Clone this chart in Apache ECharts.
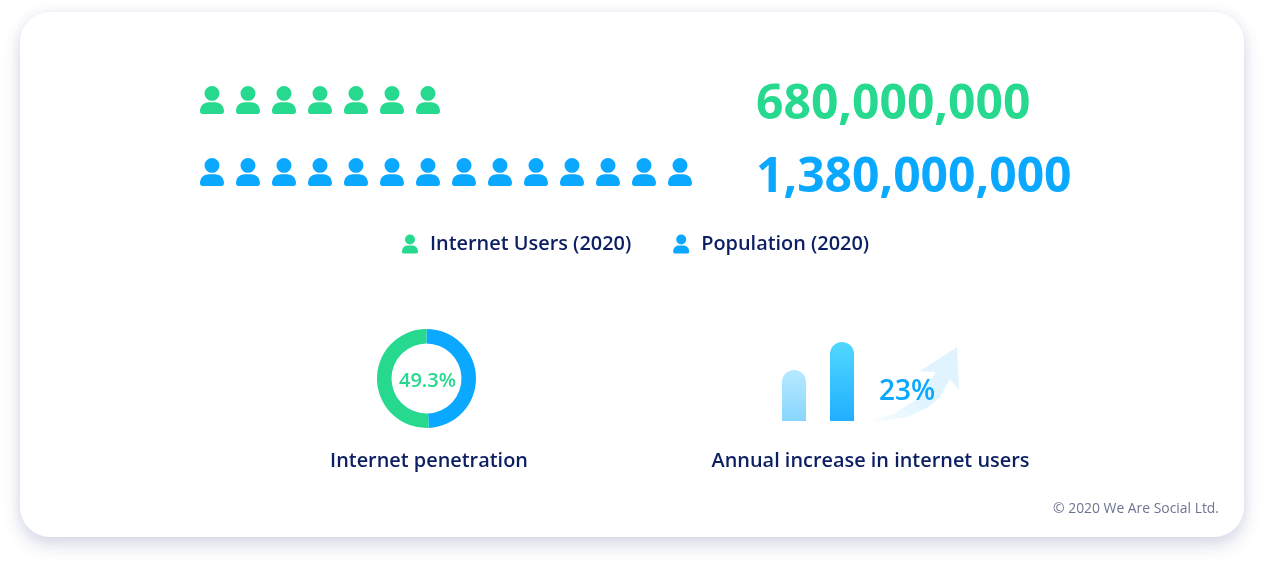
<!DOCTYPE html>
<html>
<head>
<meta charset="utf-8">
<script src="https://cdn.jsdelivr.net/npm/echarts@6/dist/echarts.min.js"></script>
<style>
html, body { margin: 0; padding: 0; background: #fff; }
#card { position: absolute; left: 20px; top: 12px; width: 1224px; height: 525px; background: #fff; border-radius: 30px; box-shadow: 0 8px 18px rgba(60, 75, 140, 0.2), 0 0 12px rgba(60, 75, 140, 0.06); }
#container { position: absolute; left: 0; top: 0; width: 1264px; height: 565px; }
</style>
</head>
<body>
<div id="card"></div>
<div id="container"></div>
<script>
// 数据
var rowNames = ['Internet Users (2020)', 'Population (2020)'];
var internetUsers = [680000000, null];
var population = [null, 1380000000];
var penetration = [49.3, 50.7]; // internet users, rest
var barYears = ['2019', '2020'];
var barHeights = [51, 79];
var annualIncrease = '23%';
var copyright = '© 2020 We Are Social Ltd.';

var GREEN = '#26d98f';
var BLUE = '#0ba8ff';
var NAVY = '#0c1f63';
var FONT = '"Open Sans", "Noto Sans", sans-serif';
var PERSON = 'path://M12 0a7.5 7.5 0 1 1 0 15a7.5 7.5 0 1 1 0-15ZM9 16.3H15C20.5 16.3 24 20 24 25.5C24 27.3 23 28.3 21.5 28.3H2.5C1 28.3 0 27.3 0 25.5C0 20 3.5 16.3 9 16.3Z';

function bigNumber(v, top, color) {
    return { text: v.toLocaleString('en-US'), left: 756, top: top, padding: 0,
        textStyle: { color: color, fontFamily: FONT, fontSize: 48, fontWeight: 700 } };
}
function caption(text, centerX) {
    return { text: text, left: centerX, top: 451, textAlign: 'center', padding: 0,
        textStyle: { color: NAVY, fontFamily: FONT, fontSize: 19.9, fontWeight: 600 } };
}

var dom = document.getElementById('container');
var myChart = echarts.init(dom);
var option = {
    animation: false,
    title: [
        bigNumber(internetUsers[0], 81, GREEN),
        bigNumber(population[1], 154, BLUE),
        caption('Internet penetration', 429),
        caption('Annual increase in internet users', 870.5),
        { text: penetration[0] + '%', left: 427.5, top: 371, textAlign: 'center', padding: 0,
          textStyle: { color: GREEN, fontFamily: FONT, fontSize: 20, fontWeight: 600 } },
        { text: annualIncrease, left: 879, top: 378, padding: 0,
          textStyle: { color: BLUE, fontFamily: FONT, fontSize: 28, fontWeight: 600 } },
        { text: copyright, right: 45, top: 502, padding: 0,
          textStyle: { color: '#6b7590', fontFamily: FONT, fontSize: 13.9, fontWeight: 400 } }
    ],
    legend: {
        left: 402, top: 234, padding: 0, itemWidth: 16, itemHeight: 19, itemGap: 42,
        selectedMode: false,
        data: [
            { name: rowNames[0], icon: PERSON },
            { name: rowNames[1], icon: PERSON }
        ],
        textStyle: { color: NAVY, fontFamily: FONT, fontSize: 19.9, fontWeight: 600, padding: [0, 0, 0, 7] }
    },
    grid: [
        { left: 194, top: 64, width: 504, height: 144 },
        { left: 770, top: 321, width: 96, height: 100 }
    ],
    xAxis: [
        { gridIndex: 0, type: 'value', min: 0, max: 1400000000, show: false },
        { gridIndex: 1, type: 'category', data: barYears, show: false }
    ],
    yAxis: [
        { gridIndex: 0, type: 'category', data: rowNames, inverse: true, show: false },
        { gridIndex: 1, type: 'value', min: 0, max: 100, show: false }
    ],
    // 装饰箭头
    graphic: [{
        type: 'polygon', silent: true, z: 1,
        shape: { points: [[957, 347], [959, 390], [950, 379], [940, 397], [927, 408], [907, 417], [887, 420.5], [867, 421], [893, 414], [917, 399], [936, 372], [920, 371]] },
        style: {
            fill: new echarts.graphic.LinearGradient(0, 1, 1, 0, [
                { offset: 0, color: 'rgba(223,244,255,0.2)' },
                { offset: 0.5, color: '#dff4ff' },
                { offset: 1, color: '#dff4ff' }
            ])
        }
    }],
    series: [
        {
            name: rowNames[0], type: 'pictorialBar', xAxisIndex: 0, yAxisIndex: 0,
            data: internetUsers, symbol: PERSON, symbolSize: [24, 28], symbolRepeat: true,
            symbolMargin: '6!', symbolPosition: 'start', barGap: '-100%', itemStyle: { color: GREEN }
        },
        {
            name: rowNames[1], type: 'pictorialBar', xAxisIndex: 0, yAxisIndex: 0,
            data: population, symbol: PERSON, symbolSize: [24, 28], symbolRepeat: true,
            symbolMargin: '6!', symbolPosition: 'start', barGap: '-100%', itemStyle: { color: BLUE }
        },
        {
            type: 'bar', xAxisIndex: 1, yAxisIndex: 1, barWidth: 24, z: 2,
            data: [
                { value: barHeights[0], itemStyle: { color: new echarts.graphic.LinearGradient(0, 0, 0, 1, [
                    { offset: 0, color: '#b8e9ff' }, { offset: 1, color: '#88d6ff' }]) } },
                { value: barHeights[1], itemStyle: { color: new echarts.graphic.LinearGradient(0, 0, 0, 1, [
                    { offset: 0, color: '#50d8ff' }, { offset: 1, color: '#22aeff' }]) } }
            ],
            itemStyle: { borderRadius: [12, 12, 0, 0] }
        },
        {
            type: 'pie', radius: [35, 49.5], center: [426.5, 378.5], startAngle: 90, clockwise: true,
            silent: true, label: { show: false }, labelLine: { show: false },
            data: [
                { value: penetration[0], itemStyle: { color: BLUE } },
                { value: penetration[1], itemStyle: { color: GREEN } }
            ]
        }
    ]
};

if (option && typeof option === 'object') {
    myChart.setOption(option);
}
</script>
</body>
</html>
